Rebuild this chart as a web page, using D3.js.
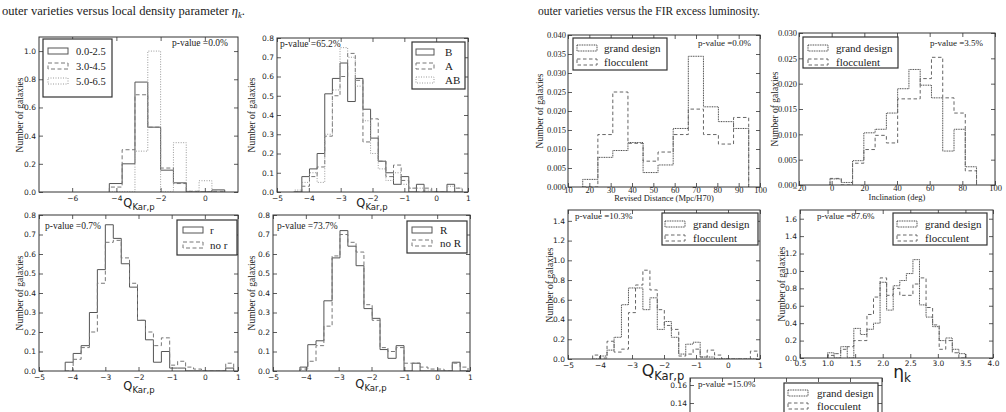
<!DOCTYPE html>
<html>
<head>
<meta charset="utf-8">
<script src="https://cdnjs.cloudflare.com/ajax/libs/d3/7.8.5/d3.min.js"></script>
<style>
  body { margin: 0; background: #fff; }
  svg { display: block; }
</style>
</head>
<body>
<div id="chart"></div>
<script>
// ---- data ----

// panel 1: eta_k ranges
var p1Edges = [-4.32, -3.74, -3.16, -2.58, -2.0, -1.42, -0.84, -0.26, 0.32, 0.9];
var eta00_25 = [0.06, 0.2, 0.78, 0.46, 0.155, 0.065, 0.0, 0.0, 0.015];
var eta30_45 = [0.035, 0.3, 0.69, 0.46, 0.17, 0.06, 0.005, 0.0, 0.005];
var eta50_65 = [0.0, 0.0, 0.29, 1.0, 0.0, 0.35, 0.005, 0.08, 0.0];

// panel 2: bar families
var p2Edges = [-4.46, -4.22, -3.98, -3.74, -3.50, -3.26, -3.02, -2.78, -2.54, -2.30, -2.06, -1.82,
               -1.58, -1.34, -1.10, -0.86, -0.62, -0.38, -0.14, 0.10, 0.34, 0.58, 0.82];
var barB  = [0, 0.08, 0.12, 0.2, 0.51, 0.59, 0.67, 0.47, 0.59, 0.43, 0.28, 0.16, 0.1, 0.04, 0.08, 0.0, 0.04, 0, 0, 0, 0.04, 0];
var barA  = [0, 0.03, 0.08, 0.13, 0.29, 0.5, 0.6, 0.72, 0.58, 0.26, 0.38, 0.16, 0.08, 0.14, 0.06, 0.02, 0, 0.02, 0, 0, 0, 0.02];
var barAB = [0.01, 0.05, 0.1, 0.05, 0.3, 0.53, 0.75, 0.7, 0.55, 0.37, 0.2, 0.12, 0.06, 0.1, 0.04, 0.02, 0.02, 0.01, 0, 0, 0.03, 0.02];

// panel 3: inner ring
var p3Edges = [-4.21, -3.97, -3.73, -3.48, -3.24, -3.00, -2.76, -2.52, -2.27, -2.03, -1.79,
               -1.55, -1.31, -1.06, -0.82, -0.58, -0.34, -0.10, 0.15, 0.39, 0.63, 0.87];
var ringR   = [0.045, 0.09, 0.13, 0.3, 0.52, 0.75, 0.68, 0.55, 0.43, 0.26, 0.16, 0.045, 0.1, 0.015, 0.015, 0, 0, 0, 0, 0, 0.015];
var ringNoR = [0, 0.06, 0.12, 0.2, 0.45, 0.66, 0.67, 0.58, 0.45, 0.26, 0.2, 0.13, 0.17, 0.03, 0.05, 0.02, 0.01, 0, 0, 0, 0.04];

// panel 4: outer ring
var p4Edges = [-4.18, -3.94, -3.69, -3.45, -3.20, -2.96, -2.72, -2.47, -2.23, -1.98, -1.74,
               -1.50, -1.25, -1.01, -0.76, -0.52, -0.28, -0.03, 0.21, 0.46, 0.70, 0.94];
var outerR   = [0.02, 0.135, 0.155, 0.36, 0.58, 0.72, 0.64, 0.54, 0.32, 0.27, 0.11, 0.065, 0.13, 0, 0.04, 0, 0, 0, 0, 0.045, 0];
var outerNoR = [0.01, 0.05, 0.13, 0.23, 0.59, 0.7, 0.66, 0.61, 0.34, 0.26, 0.12, 0.1, 0.12, 0.04, 0.04, 0.02, 0.01, 0.01, 0, 0.04, 0.02];

// panel 5: revised distance
var p5Edges = [16.9, 24.0, 31.0, 38.1, 45.2, 52.2, 59.3, 66.4, 73.5, 80.5, 87.6, 94.7];
var distGrand = [0.002, 0.0078, 0.0096, 0.0117, 0.0038, 0.0058, 0.0154, 0.0344, 0.0211, 0.0172, 0.0154];
var distFloc  = [0, 0.0138, 0.025, 0.0115, 0.0068, 0.0092, 0.0138, 0.0205, 0.0138, 0.0113, 0.0183];

// panel 6: inclination
var p6Edges = [-1, 5.9, 12.8, 19.7, 26.6, 33.5, 40.4, 47.3, 54.2, 61.1, 68.0, 74.9, 81.8, 88.7];
var incGrand = [0.0012, 0.0005, 0.0048, 0.0103, 0.011, 0.0142, 0.019, 0.0228, 0.0197, 0.0172, 0.0067, 0.011, 0.0036];
var incFloc  = [0.0013, 0, 0.0043, 0.007, 0.0098, 0.0083, 0.017, 0.017, 0.021, 0.0252, 0.0172, 0.0142, 0.0028];

// panel 7: Q_Kar,p by arm class
var p7Edges = [-4.23, -4.01, -3.78, -3.56, -3.33, -3.11, -2.89, -2.66, -2.44, -2.21, -1.99, -1.77,
               -1.54, -1.32, -1.09, -0.87, -0.65, -0.42, -0.20, 0.03, 0.25, 0.47, 0.70, 0.92];
var qGrand = [0, 0.03, 0.09, 0.22, 0.55, 0.72, 0.72, 0.5, 0.62, 0.3, 0.38, 0.22, 0.05, 0.15, 0.17, 0.02, 0.02, 0, 0, 0, 0, 0, 0];
var qFloc  = [0.04, 0.01, 0.18, 0.07, 0.1, 0.47, 0.75, 0.9, 0.7, 0.5, 0.34, 0.3, 0.03, 0.05, 0.1, 0.02, 0.09, 0.04, 0, 0, 0, 0, 0.08];

// panel 8: eta_k by arm class
var p8Edges = [1.000, 1.119, 1.238, 1.357, 1.476, 1.595, 1.714, 1.833, 1.952, 2.071, 2.190,
               2.310, 2.429, 2.548, 2.667, 2.786, 2.905, 3.024, 3.143, 3.262, 3.381, 3.500];
var etaGrand = [0.06, 0, 0.13, 0, 0.34, 0.27, 0.33, 0.4, 0.87, 0.55, 0.83, 0.89, 0.97, 1.13, 0.61, 0.47, 0.36, 0.2, 0.23, 0.1, 0.05];
var etaFloc  = [0.03, 0.05, 0.1, 0.13, 0.2, 0.2, 0.5, 0.7, 0.92, 0.72, 0.8, 0.72, 0.72, 0.85, 0.92, 0.58, 0.38, 0.1, 0.2, 0.06, 0];

// tick labels
var qTicks = [-5, -4, -3, -2, -1, 0, 1];
var p1XTicks = [-6, -4, -2, 0];
var p1YTicks = [0, 0.2, 0.4, 0.6, 0.8, 1.0];
var qYTicks = [0, 0.1, 0.2, 0.3, 0.4, 0.5, 0.6, 0.7, 0.8];
var distTicks = [10, 20, 30, 40, 50, 60, 70, 80, 90, 100];
var distYTicks = [0, 0.005, 0.010, 0.015, 0.020, 0.025, 0.030, 0.035, 0.040];
var incTicks = [-20, 0, 20, 40, 60, 80, 100];
var incYTicks = [0, 0.005, 0.010, 0.015, 0.020, 0.025, 0.030];
var armYTicks = [0, 0.2, 0.4, 0.6, 0.8, 1.0, 1.2, 1.4];
var etaTicks = [0.5, 1.0, 1.5, 2.0, 2.5, 3.0, 3.5, 4.0];
var etaYTicks = [0, 0.2, 0.4, 0.6, 0.8, 1.0, 1.2, 1.4, 1.6];
var p9YTicks = [0, 0.02, 0.04, 0.06, 0.08, 0.10, 0.12, 0.14, 0.16];

// ---- styles ----
var SOLID  = {c: '#555', d: null};
var DASHED = {c: '#777', d: '4,2.5'};
var DOTTED = {c: '#999', d: '1,1.5'};
var GRAND  = {c: '#444', d: '1,0.7'};
var FLOC   = {c: '#666', d: '3.5,2.5'};
var SANS = 'DejaVu Sans, sans-serif';
var SERIF = 'Liberation Serif, serif';
var H = 412;

var svg = d3.select('#chart').append('svg')
    .attr('width', 1006)
    .attr('height', H);
svg.append('rect').attr('width', 1006).attr('height', H).attr('fill', '#fff');

// captions
svg.append('text').attr('x', 2).attr('y', 15)
    .attr('font-family', SERIF).attr('font-size', 12.5).attr('fill', '#222')
    .attr('textLength', 243).attr('lengthAdjust', 'spacingAndGlyphs')
    .html('outer varieties versus local density parameter <tspan font-style="italic">η</tspan><tspan font-size="8.5" dy="2.5" font-style="italic">k</tspan><tspan dy="-2.5">.</tspan>');
svg.append('text').attr('x', 538).attr('y', 15)
    .attr('font-family', SERIF).attr('font-size', 12.5).attr('fill', '#222')
    .attr('textLength', 222).attr('lengthAdjust', 'spacingAndGlyphs')
    .text('outer varieties versus the FIR excess luminosity.');

function stepPts(edges, vals) {
    var pts = [[edges[0], 0]];
    vals.forEach(function(v, i) {
        pts.push([edges[i], v]);
        pts.push([edges[i + 1], v]);
    });
    pts.push([edges[vals.length], 0]);
    return pts;
}

var clipN = 0;
function drawPanel(p) {
    var x = d3.scaleLinear().domain(p.xd).range([p.l, p.r]);
    var y = d3.scaleLinear().domain(p.yd).range([p.b, p.t]);
    var g = svg.append('g');
    var id = 'clip' + (clipN++);
    svg.append('clipPath').attr('id', id).append('rect')
        .attr('x', p.l).attr('y', p.t).attr('width', p.r - p.l).attr('height', p.b - p.t);

    var line = d3.line().x(function(d) { return x(d[0]); }).y(function(d) { return y(d[1]); });
    (p.series || []).forEach(function(s) {
        g.append('path')
            .attr('clip-path', 'url(#' + id + ')')
            .attr('d', line(stepPts(s.edges, s.vals)))
            .attr('fill', 'none')
            .attr('stroke', s.st.c)
            .attr('stroke-width', 1)
            .attr('stroke-dasharray', s.st.d);
    });

    // axes, inward ticks on all four sides
    var bottom = g.append('g').attr('transform', 'translate(0,' + p.b + ')')
        .call(d3.axisBottom(x).tickValues(p.xt).tickSize(-4).tickPadding(p.xpad).tickFormat(d3.format(p.xf)));
    var top = g.append('g').attr('transform', 'translate(0,' + p.t + ')')
        .call(d3.axisTop(x).tickValues(p.xt).tickSize(-4).tickFormat(''));
    var left = g.append('g').attr('transform', 'translate(' + p.l + ',0)')
        .call(d3.axisLeft(y).tickValues(p.yt).tickSize(-4).tickPadding(p.ypad).tickFormat(d3.format(p.yf)));
    var right = g.append('g').attr('transform', 'translate(' + p.r + ',0)')
        .call(d3.axisRight(y).tickValues(p.yt).tickSize(-4).tickFormat(''));
    [bottom, top, left, right].forEach(function(a) {
        a.select('.domain').remove();
        a.selectAll('line').attr('stroke', '#333').attr('stroke-width', 0.8);
        a.attr('font-family', p.tf).attr('font-size', p.ts);
        a.selectAll('text').attr('fill', '#222');
    });
    // labels that fall below the page are not shown
    if (p.b > H) bottom.selectAll('text').remove();
    left.selectAll('.tick').filter(function(d) { return y(d) > H - 4; }).select('text').remove();

    g.append('rect')
        .attr('x', p.l).attr('y', p.t).attr('width', p.r - p.l).attr('height', p.b - p.t)
        .attr('fill', 'none').attr('stroke', '#333').attr('stroke-width', 1);

    // p-value
    g.append('text').attr('x', p.pv[0]).attr('y', p.pv[1])
        .attr('font-family', SERIF).attr('font-size', p.pvs || 9.5).attr('fill', '#222')
        .text('p-value =' + p.pv[2]);

    // y label
    if (p.yl) {
        g.append('text')
            .attr('transform', 'translate(' + p.yl[0] + ',' + p.yl[1] + ') rotate(-90)')
            .attr('text-anchor', 'middle')
            .attr('font-family', SERIF).attr('font-size', 9.5).attr('fill', '#222')
            .text('Number of galaxies');
    }

    // x label
    if (p.xl) {
        var t = g.append('text').attr('x', p.xl.x).attr('y', p.xl.y)
            .attr('text-anchor', 'middle').attr('fill', '#222')
            .attr('font-family', p.xl.f).attr('font-size', p.xl.s);
        t.append('tspan').text(p.xl.main);
        if (p.xl.sub) {
            t.append('tspan').attr('font-size', p.xl.ss).attr('dy', p.xl.dy).text(p.xl.sub);
        }
    }

    // legend
    var L = p.leg;
    var lg = g.append('g');
    lg.append('rect').attr('x', L.box[0]).attr('y', L.box[1]).attr('width', L.box[2]).attr('height', L.box[3])
        .attr('fill', '#fff').attr('stroke', '#333').attr('stroke-width', 1.2);
    L.items.forEach(function(it, i) {
        var yy = L.ys[i];
        lg.append('rect').attr('x', L.px).attr('y', yy - 3).attr('width', L.pw).attr('height', 6)
            .attr('fill', 'none').attr('stroke', it.st.c).attr('stroke-width', 1).attr('stroke-dasharray', it.st.d);
        lg.append('text').attr('x', L.tx).attr('y', yy + 3.5)
            .attr('font-family', SERIF).attr('font-size', L.fs).attr('fill', '#222')
            .text(it.name);
    });
}

var qLabelSmall = function(cx, by) {
    return {x: cx, y: by, main: 'Q', sub: 'Kar,p', f: SANS, s: 11.5, ss: 8.5, dy: 3};
};

var panels = [
    {l: 39, r: 238, t: 37, b: 192, xd: [-7.5, 1.5], yd: [0, 1.1], xt: p1XTicks, yt: p1YTicks,
     xf: 'd', yf: '.1f', tf: SANS, ts: 7.5, xpad: 4, ypad: 3,
     series: [{edges: p1Edges, vals: eta00_25, st: SOLID}, {edges: p1Edges, vals: eta30_45, st: DASHED},
              {edges: p1Edges, vals: eta50_65, st: DOTTED}],
     pv: [172, 46, '0.0%'], yl: [23, 115], xl: qLabelSmall(139, 207),
     leg: {box: [43, 39, 69, 58], ys: [51, 66, 81], px: 48, pw: 20, tx: 76, fs: 10.5,
           items: [{name: '0.0-2.5', st: SOLID}, {name: '3.0-4.5', st: DASHED}, {name: '5.0-6.5', st: DOTTED}]}},
    {l: 277, r: 468, t: 38, b: 192, xd: [-5, 1], yd: [0, 0.8], xt: qTicks, yt: qYTicks,
     xf: 'd', yf: '.1f', tf: SANS, ts: 7.5, xpad: 4, ypad: 3,
     series: [{edges: p2Edges, vals: barB, st: SOLID}, {edges: p2Edges, vals: barA, st: DASHED},
              {edges: p2Edges, vals: barAB, st: DOTTED}],
     pv: [280, 47, '65.2%'], yl: [255, 115], xl: qLabelSmall(372, 207),
     leg: {box: [412, 42, 53, 47], ys: [52, 66, 80], px: 416, pw: 18, tx: 445, fs: 11,
           items: [{name: 'B', st: SOLID}, {name: 'A', st: DASHED}, {name: 'AB', st: DOTTED}]}},
    {l: 39, r: 238, t: 215, b: 371, xd: [-5, 1], yd: [0, 0.8], xt: qTicks, yt: qYTicks,
     xf: 'd', yf: '.1f', tf: SANS, ts: 7.5, xpad: 4, ypad: 3,
     series: [{edges: p3Edges, vals: ringR, st: SOLID}, {edges: p3Edges, vals: ringNoR, st: DASHED}],
     pv: [45, 229, '0.7%'], yl: [23, 293], xl: qLabelSmall(139, 390),
     leg: {box: [177, 220, 60, 35], ys: [230, 245], px: 183, pw: 20, tx: 210, fs: 11,
           items: [{name: 'r', st: SOLID}, {name: 'no r', st: DASHED}]}},
    {l: 273, r: 470, t: 215, b: 371, xd: [-5, 1], yd: [0, 0.8], xt: qTicks, yt: qYTicks,
     xf: 'd', yf: '.1f', tf: SANS, ts: 7.5, xpad: 4, ypad: 3,
     series: [{edges: p4Edges, vals: outerR, st: SOLID}, {edges: p4Edges, vals: outerNoR, st: DASHED}],
     pv: [277, 229, '73.7%'], yl: [255, 293], xl: qLabelSmall(371, 388),
     leg: {box: [407, 221, 60, 32], ys: [230, 243], px: 412, pw: 20, tx: 440, fs: 11,
           items: [{name: 'R', st: SOLID}, {name: 'no R', st: DASHED}]}},
    {l: 568, r: 760, t: 35, b: 187, xd: [10, 100], yd: [0, 0.04], xt: distTicks, yt: distYTicks,
     xf: 'd', yf: '.3f', tf: SERIF, ts: 8.5, xpad: 0, ypad: 2,
     series: [{edges: p5Edges, vals: distGrand, st: GRAND}, {edges: p5Edges, vals: distFloc, st: FLOC}],
     pv: [698, 46, '0.0%'], pvs: 9, yl: [543, 111],
     xl: {x: 664, y: 201, main: 'Revised Distance (Mpc/H70)', f: SERIF, s: 8.5},
     leg: {box: [573, 38, 94, 32], ys: [48, 62], px: 577, pw: 20, tx: 604, fs: 11,
           items: [{name: 'grand design', st: GRAND}, {name: 'flocculent', st: FLOC}]}},
    {l: 799, r: 995, t: 33, b: 185, xd: [-20, 100], yd: [0, 0.03], xt: incTicks, yt: incYTicks,
     xf: 'd', yf: '.3f', tf: SERIF, ts: 8.5, xpad: 0, ypad: 2,
     series: [{edges: p6Edges, vals: incGrand, st: GRAND}, {edges: p6Edges, vals: incFloc, st: FLOC}],
     pv: [930, 46, '3.5%'], pvs: 9, yl: [778, 109],
     xl: {x: 897, y: 200, main: 'Inclination (deg)', f: SERIF, s: 8.5},
     leg: {box: [803, 37, 95, 31], ys: [48, 62], px: 808, pw: 20, tx: 836, fs: 11,
           items: [{name: 'grand design', st: GRAND}, {name: 'flocculent', st: FLOC}]}},
    {l: 568, r: 760, t: 210, b: 359, xd: [-5, 1], yd: [0, 1.51], xt: qTicks, yt: armYTicks,
     xf: 'd', yf: '.1f', tf: SANS, ts: 7.5, xpad: 4, ypad: 3,
     series: [{edges: p7Edges, vals: qGrand, st: GRAND}, {edges: p7Edges, vals: qFloc, st: FLOC}],
     pv: [575, 219, '10.3%'], pvs: 9, yl: [553, 285],
     xl: {x: 663, y: 376, main: 'Q', sub: 'Kar,p', f: SANS, s: 16, ss: 11.5, dy: 4},
     leg: {box: [662, 213, 96, 32], ys: [224, 238], px: 665, pw: 20, tx: 693, fs: 11,
           items: [{name: 'grand design', st: GRAND}, {name: 'flocculent', st: FLOC}]}},
    {l: 800, r: 993, t: 210, b: 358, xd: [0.5, 4.0], yd: [0, 1.7], xt: etaTicks, yt: etaYTicks,
     xf: '.1f', yf: '.1f', tf: SANS, ts: 7.5, xpad: 3, ypad: 3,
     series: [{edges: p8Edges, vals: etaGrand, st: GRAND}, {edges: p8Edges, vals: etaFloc, st: FLOC}],
     pv: [817, 219, '87.6%'], pvs: 9, yl: [785, 284],
     xl: {x: 902, y: 378, main: 'η', sub: 'k', f: SANS, s: 17, ss: 12, dy: 4},
     leg: {box: [893, 213, 94, 32], ys: [224, 238], px: 897, pw: 20, tx: 925, fs: 11,
           items: [{name: 'grand design', st: GRAND}, {name: 'flocculent', st: FLOC}]}},
    {l: 690, r: 882, t: 378, b: 529, xd: [-5, 1], yd: [0, 0.1678], xt: qTicks, yt: p9YTicks,
     xf: 'd', yf: '.2f', tf: SANS, ts: 7.5, xpad: 4, ypad: 3,
     series: [],
     pv: [698, 387, '15.0%'], pvs: 9, yl: null,
     leg: {box: [784, 383, 94, 40], ys: [393, 406], px: 788, pw: 20, tx: 817, fs: 11,
           items: [{name: 'grand design', st: GRAND}, {name: 'flocculent', st: FLOC}]}}
];

panels.forEach(drawPanel);
</script>
</body>
</html>
